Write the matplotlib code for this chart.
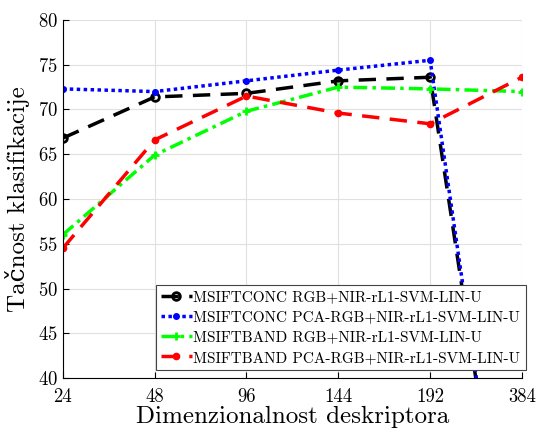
import numpy as np
import matplotlib.pyplot as plt

plt.rcParams['font.family'] = ['cmr10', 'DejaVu Serif']
plt.rcParams['mathtext.fontset'] = 'cm'
plt.rcParams['axes.formatter.use_mathtext'] = True

# data
dims = ['24', '48', '96', '144', '192', '384']
conc_rgb = [66.8, 71.4, 71.8, 73.2, 73.6, 6.0]
conc_pca = [72.3, 72.0, 73.2, 74.4, 75.5, 5.0]
band_rgb = [56.0, 64.9, 69.8, 72.5, 72.3, 72.0]
band_pca = [54.5, 66.6, 71.5, 69.6, 68.4, 73.6]
labels = ['MSIFTCONC RGB+NIR-rL1-SVM-LIN-U',
          'MSIFTCONC PCA-RGB+NIR-rL1-SVM-LIN-U',
          'MSIFTBAND RGB+NIR-rL1-SVM-LIN-U',
          'MSIFTBAND PCA-RGB+NIR-rL1-SVM-LIN-U']

x = np.arange(len(dims))

fig = plt.figure(figsize=(5.37, 4.34), dpi=100)
ax = fig.add_axes([0.117, 0.129, 0.855, 0.825])

ax.plot(x, conc_rgb, color='black', ls=(0, (5, 3)), lw=2.5, marker='o',
        ms=5.5, mfc='none', mew=2, label=labels[0])
ax.plot(x, conc_pca, color='blue', ls=(0, (1, 1)), lw=2.5, marker='.',
        ms=8, label=labels[1])
ax.plot(x, band_rgb, color='#00ff00', ls=(0, (4, 1.5, 1, 1.5)), lw=2.5, marker='+',
        ms=6, mew=2, label=labels[2])
ax.plot(x, band_pca, color='red', ls=(0, (5, 3)), lw=2.5, marker='.',
        ms=9, label=labels[3])

ax.set_xlim(0, 5)
ax.set_ylim(40, 80)
ax.set_xticks(x)
ax.set_xticklabels(dims)
ax.set_yticks(np.arange(40, 81, 5))
ax.grid(True, color='#e0e0e0', lw=0.8)
ax.spines['top'].set_visible(False)
ax.spines['right'].set_visible(False)
ax.tick_params(direction='in', labelsize=13.5, length=4)
ax.tick_params(axis='x', pad=7)
ax.set_xlabel('Dimenzionalnost deskriptora', fontsize=18, labelpad=0)
ax.set_ylabel('Tačnost klasifikacije', fontsize=18, labelpad=6)

leg = ax.legend(loc='lower right', fontsize=11, fancybox=False, framealpha=1,
                edgecolor='#444444', handlelength=2.0, handletextpad=0.1,
                borderaxespad=0.0, borderpad=0.35, labelspacing=0.42,
                bbox_to_anchor=(1.008, 0.022))
leg.get_frame().set_linewidth(0.8)

plt.savefig('out.png', dpi=100)
